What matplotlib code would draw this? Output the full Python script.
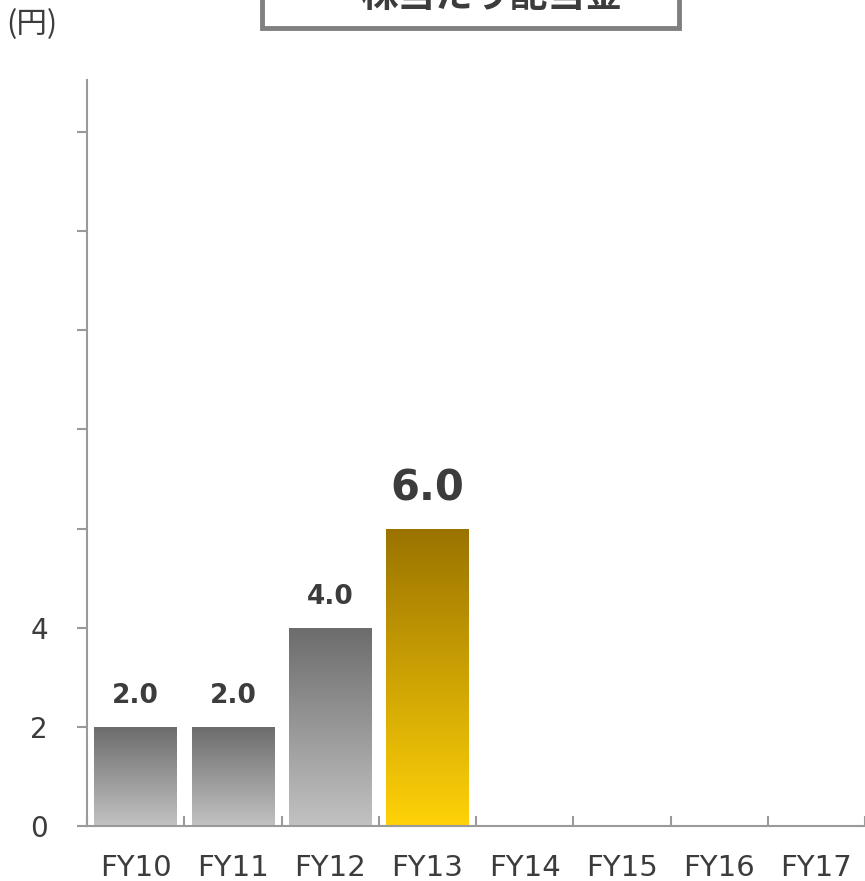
import numpy as np
import matplotlib.pyplot as plt
from matplotlib.patches import Rectangle
from matplotlib.colors import LinearSegmentedColormap

plt.rcParams['font.family'] = ['DejaVu Sans', 'Noto Sans CJK JP']

years = ["FY10", "FY11", "FY12", "FY13", "FY14", "FY15", "FY16", "FY17"]
dividend = [2.0, 2.0, 4.0, 6.0]
highlight = "FY13"

text_color = "#3c3c3c"
axis_color = "#9a9a9a"

gray_cmap = LinearSegmentedColormap.from_list("gray", ["#c2c2c2", "#6c6c6c"])
gold_cmap = LinearSegmentedColormap.from_list("gold", ["#ffd208", "#9a7300"])

fig = plt.figure(figsize=(8.65, 8.81), dpi=100)
ax = fig.add_axes([87 / 865, 55 / 881, 1 - 87 / 865, (826 - 80) / 881])

x = np.arange(len(years))
bars = ax.bar(x[:len(dividend)], dividend, width=0.85, color="none")

# gradient fill, clipped to each bar
grad = np.linspace(0, 1, 256).reshape(-1, 1)
for year, bar, val in zip(years, bars, dividend):
    cmap = gold_cmap if year == highlight else gray_cmap
    x0 = bar.get_x()
    im = ax.imshow(grad, cmap=cmap, aspect="auto", origin="lower",
                   extent=[x0, x0 + bar.get_width(), 0, val], zorder=2)
    im.set_clip_path(bar)
    big = year == highlight
    ax.annotate(f"{val:.1f}", (bar.get_x() + bar.get_width() / 2, val),
                xytext=(0, 14 if big else 13), textcoords="offset points",
                ha="center", va="bottom", fontsize=30 if big else 19,
                fontweight="bold", color=text_color)

ax.set_xlim(-0.5, len(years) - 0.5 - 0.04)
ax.set_ylim(0, 15.05)

ax.spines[["top", "right"]].set_visible(False)
ax.spines["left"].set_color(axis_color)
ax.spines["bottom"].set_color(axis_color)
ax.spines["left"].set_linewidth(1.5)
ax.spines["bottom"].set_linewidth(1.5)

ax.set_yticks(range(0, 15, 2))
ax.set_yticklabels(["0", "2", "4"] + [""] * 5)
ax.tick_params(axis="y", length=7, width=1.5, color=axis_color,
               labelsize=20, labelcolor=text_color, pad=21)

ax.set_xticks(x)
ax.set_xticklabels(years)
ax.set_xticks(np.arange(-0.5, len(years), 1), minor=True)
ax.tick_params(axis="x", which="major", length=0, labelsize=21,
               labelcolor=text_color, pad=20)
ax.tick_params(axis="x", which="minor", direction="in", length=7,
               width=1.5, color=axis_color)

fig.text(6 / 865, 1 - 40 / 881, "(円)", fontsize=22, color=text_color,
         family=["Noto Sans CJK JP", "DejaVu Sans"], ha="left", va="bottom")

# title box, top part cut off by the figure edge
fig.patches.append(Rectangle((262 / 865, 1 - 28 / 881), (679 - 262) / 865, 0.1,
                             transform=fig.transFigure, facecolor="white",
                             edgecolor="#808080", linewidth=3.5))
fig.text(491 / 865, 1 - 15 / 881, "株当たり配当金", fontsize=27,
         fontweight="bold", color=text_color,
         family=["Noto Sans CJK JP", "DejaVu Sans"], ha="center", va="bottom")

plt.savefig("out.png", dpi=100)
